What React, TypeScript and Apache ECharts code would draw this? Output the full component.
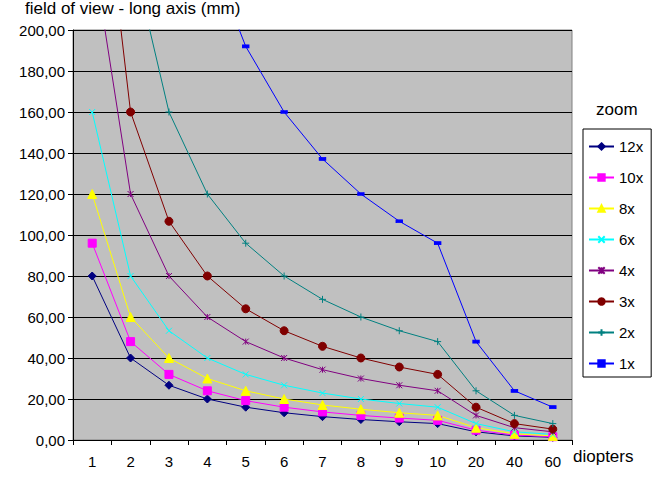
import React, { useEffect, useRef } from "react";
import * as echarts from "echarts";

const categories = ["1", "2", "3", "4", "5", "6", "7", "8", "9", "10", "20", "40", "60"];
const seriesNames = ["12x", "10x", "8x", "6x", "4x", "3x", "2x", "1x"];
const v12x = [80, 40, 26.7, 20, 16, 13.3, 11.4, 10, 8.9, 8, 4, 2, 1.3];
const v10x = [96, 48, 32, 24, 19.2, 16, 13.7, 12, 10.7, 9.6, 4.8, 2.4, 1.6];
const v8x = [120, 60, 40, 30, 24, 20, 17.1, 15, 13.3, 12, 6, 3, 2];
const v6x = [160, 80, 53.3, 40, 32, 26.7, 22.9, 20, 17.8, 16, 8, 4, 2.7];
const v4x = [240, 120, 80, 60, 48, 40, 34.3, 30, 26.7, 24, 12, 6, 4];
const v3x = [320, 160, 106.7, 80, 64, 53.3, 45.7, 40, 35.6, 32, 16, 8, 5.3];
const v2x = [480, 240, 160, 120, 96, 80, 68.6, 60, 53.3, 48, 24, 12, 8];
const v1x = [960, 480, 320, 240, 192, 160, 137.1, 120, 106.7, 96, 48, 24, 16];
const seriesValues = [v12x, v10x, v8x, v6x, v4x, v3x, v2x, v1x];
const colors = ["#000080", "#FF00FF", "#FFFF00", "#00FFFF", "#800080", "#800000", "#008080", "#0000FF"];
const symbols: any[] = [
  "diamond",
  "rect",
  "triangle",
  "path://M0,0L10,10M10,0L0,10",
  "path://M0,0L10,10M10,0L0,10M5,0L5,10",
  "circle",
  "path://M5,0L5,10M0,5L10,5",
  "rect",
];
const symbolSizes: any[] = [8, 8, 9, 6, 6, 8, 7, [6, 3]];

const FONT = "'Liberation Sans', Arial, sans-serif";

export default function App() {
  const ref = useRef<HTMLDivElement>(null);
  useEffect(() => {
    document.body.style.margin = "0";
    const chart = echarts.init(ref.current!, null, { renderer: "svg" });
    chart.setOption({
      animation: false,
      backgroundColor: "#ffffff",
      textStyle: { fontFamily: FONT },
      grid: {
        left: 73,
        right: 83,
        top: 30,
        bottom: 37,
        show: true,
        backgroundColor: "#C0C0C0",
        borderColor: "#808080",
        borderWidth: 1,
      },
      graphic: [
        {
          type: "text",
          left: 25,
          top: 0,
          style: { text: "field of view - long axis (mm)", font: `17px ${FONT}`, fill: "#000" },
        },
        {
          type: "text",
          left: 596,
          top: 101,
          style: { text: "zoom", font: `17px ${FONT}`, fill: "#000" },
        },
        {
          type: "text",
          left: 573,
          top: 448,
          style: { text: "diopters", font: `17px ${FONT}`, fill: "#000" },
        },
      ],
      legend: {
        orient: "vertical",
        left: 583,
        top: 129,
        data: seriesNames,
        borderColor: "#000",
        borderWidth: 1,
        padding: [10, 8, 6, 5],
        itemWidth: 25,
        itemHeight: 8,
        itemGap: 16,
        textStyle: { fontSize: 15, fontFamily: FONT, color: "#000" },
      },
      xAxis: {
        type: "category",
        data: categories,
        boundaryGap: true,
        axisLine: { lineStyle: { color: "#000", width: 1 } },
        axisTick: { show: true, alignWithLabel: false, interval: 0, length: 5, lineStyle: { color: "#000" } },
        axisLabel: { color: "#000", fontSize: 15, fontFamily: FONT, margin: 14, interval: 0 },
        splitLine: { show: false },
      },
      yAxis: {
        type: "value",
        min: 0,
        max: 200,
        interval: 20,
        axisLine: { show: true, lineStyle: { color: "#000", width: 1 } },
        axisTick: { show: true, length: 5, lineStyle: { color: "#000" } },
        axisLabel: {
          color: "#000",
          fontSize: 15,
          fontFamily: FONT,
          margin: 8,
          formatter: (v: number) => v.toFixed(2).replace(".", ","),
        },
        splitLine: { show: true, lineStyle: { color: "#000", width: 1 } },
      },
      series: seriesNames.map((name, i) => ({
        name,
        type: "line",
        data: seriesValues[i],
        clip: true,
        symbol: symbols[i],
        symbolSize: symbolSizes[i],
        showAllSymbol: true,
        lineStyle: { color: colors[i], width: 1 },
        itemStyle: { color: colors[i], borderColor: colors[i], borderWidth: 1 },
      })),
    });
    return () => chart.dispose();
  }, []);
  return <div ref={ref} style={{ width: 655, height: 477 }} />;
}
